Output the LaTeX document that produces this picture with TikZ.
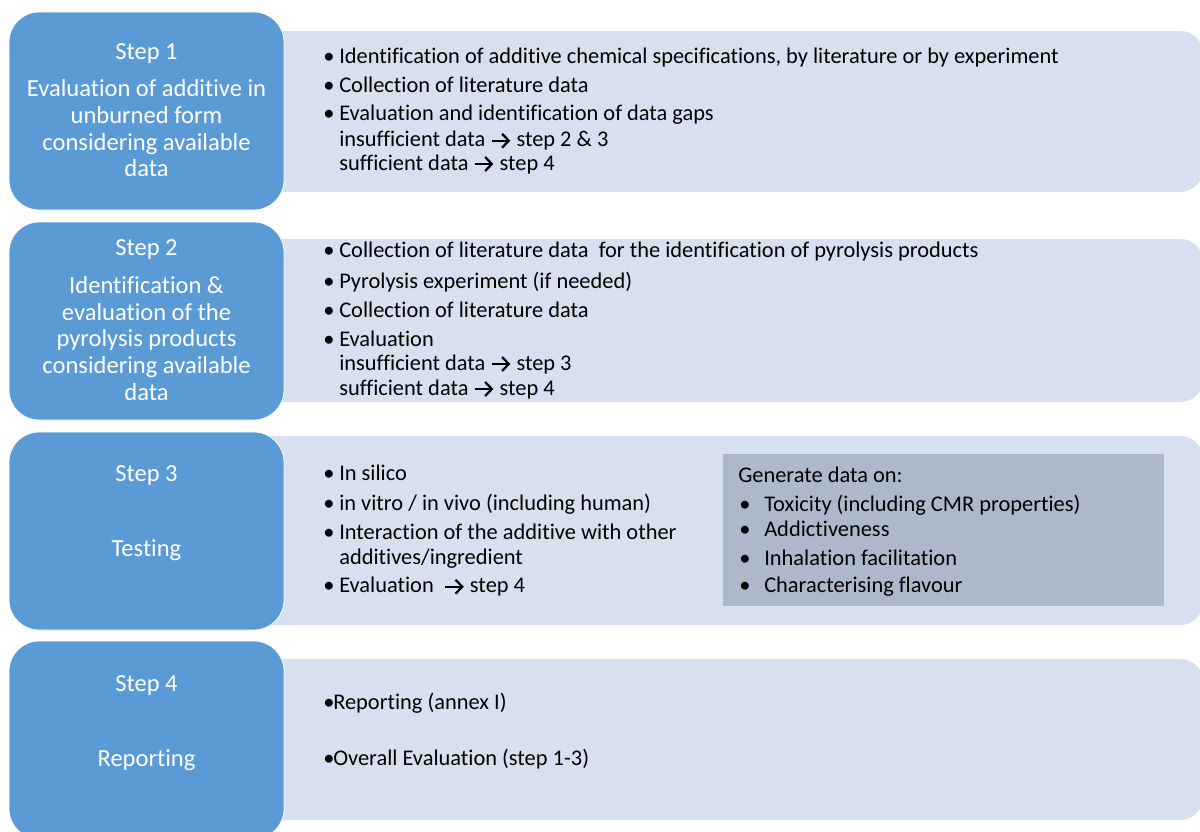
\documentclass[tikz,border=0pt]{standalone}
\usepackage{fontspec}
\setmainfont{Carlito}[Ligatures=NoCommon]
\usetikzlibrary{fit,arrows.meta}
\definecolor{stepblue}{HTML}{5B9BD5}
\definecolor{panelc}{HTML}{D6E0EE}
\definecolor{darkp}{HTML}{ADB9CA}
\newcommand{\arr}{\tikz[baseline={(0pt,-4.5pt)}]\draw[line width=1.7pt,-{Straight Barb[length=5pt,width=10.5pt]}] (0pt,0pt) -- (14pt,0pt);}
\newcommand{\bl}[1]{\makebox[#1][l]{•}}
\tikzset{
  stepbox/.style={fill=stepblue, draw=white, line width=0.6pt, rounded corners=22.5pt, inner sep=0pt},
  panelbox/.style={fill=panelc, rounded corners=17pt, inner sep=0pt},
  darkbox/.style={fill=darkp, inner sep=0pt},
  steptxt/.style={anchor=base, inner sep=0pt, text=white, font=\fontsize{18.4pt}{20pt}\selectfont},
  ln/.style={anchor=base west, inner sep=0pt, text=black, font=\fontsize{16.8pt}{18pt}\selectfont}
}
\begin{document}
\begin{tikzpicture}[x=0.75pt,y=-0.75pt]
\useasboundingbox (0,0) rectangle (1200,832);
\clip (0,0) rectangle (1200,832);
% panels
\node[panelbox, fit={(240,31)(1203,192)}] (p1) {};
\node[panelbox, fit={(240,239)(1203,402)}] (p2) {};
\node[panelbox, fit={(240,436)(1203,625)}] (p3) {};
\node[panelbox, fit={(240,659)(1203,820)}] (p4) {};
\node[darkbox, fit={(723,454)(1164,606)}] (d3) {};
% step boxes
\node[stepbox, fit={(9,12)(284,210)}] (s1) {};
\node[stepbox, fit={(9,222)(284,420)}] (s2) {};
\node[stepbox, fit={(9,432)(284,630)}] (s3) {};
\node[stepbox, fit={(9,641)(284,839)}] (s4) {};
% step texts
\node[steptxt] (s1a) at (146.5,59) {Step 1};
\node[steptxt] (s1b) at (146.5,96.7) {Evaluation of additive in};
\node[steptxt] (s1c) at (146.5,123.3) {unburned form};
\node[steptxt] (s1d) at (146.5,150) {considering available};
\node[steptxt] (s1e) at (146.5,176.7) {data};
\node[steptxt] (s2a) at (146.5,255) {Step 2};
\node[steptxt] (s2b) at (146.5,293.3) {Identification \&};
\node[steptxt] (s2c) at (146.5,320) {evaluation of the};
\node[steptxt] (s2d) at (146.5,346.7) {pyrolysis products};
\node[steptxt] (s2e) at (146.5,373.3) {considering available};
\node[steptxt] (s2f) at (146.5,400) {data};
\node[steptxt] (s3a) at (146.5,481.7) {Step 3};
\node[steptxt] (s3b) at (146.5,556.7) {Testing};
\node[steptxt] (s4a) at (146.5,691.7) {Step 4};
\node[steptxt] (s4b) at (146.5,766.7) {Reporting};
% row 1
\node[ln] (r1a) at (323,63.3) {\bl{12pt}Identification of additive chemical specifications, by literature or by experiment};
\node[ln] (r1b) at (323,92.7) {\bl{12pt}Collection of literature data};
\node[ln] (r1c) at (323,120.7) {\bl{12pt}Evaluation and identification of data gaps};
\node[ln] (r1d) at (339,146.7) {insufficient data \arr{} step 2 \& 3};
\node[ln] (r1e) at (339,170) {sufficient data \arr{} step 4};
% row 2
\node[ln] (r2a) at (323,257.3) {\bl{12pt}Collection of literature data\ \ for the identification of pyrolysis products};
\node[ln] (r2b) at (323,288) {\bl{12pt}Pyrolysis experiment (if needed)};
\node[ln] (r2c) at (323,317) {\bl{12pt}Collection of literature data};
\node[ln] (r2d) at (323,346) {\bl{12pt}Evaluation};
\node[ln] (r2e) at (339,370) {insufficient data \arr{} step 3};
\node[ln] (r2f) at (339,395) {sufficient data \arr{} step 4};
% row 3
\node[ln] (r3a) at (323,480.7) {\bl{12pt}In silico};
\node[ln] (r3b) at (323,510) {\bl{12pt}in vitro / in vivo (including human)};
\node[ln] (r3c) at (323,539.3) {\bl{12pt}Interaction of the additive with other};
\node[ln] (r3d) at (339,564.3) {additives/ingredient};
\node[ln] (r3e) at (323,592.7) {\bl{12pt}Evaluation\ \ \arr{} step 4};
% dark box
\node[ln] (d3a) at (738,482.7) {Generate data on:};
\node[ln] (d3b) at (739,511) {\bl{18.75pt}Toxicity (including CMR properties)};
\node[ln] (d3c) at (739,536.7) {\bl{18.75pt}Addictiveness};
\node[ln] (d3d) at (739,565.7) {\bl{18.75pt}Inhalation facilitation};
\node[ln] (d3e) at (739,592.7) {\bl{18.75pt}Characterising flavour};
% row 4
\node[ln] (r4a) at (323,709.3) {\bl{7.5pt}Reporting (annex I)};
\node[ln] (r4b) at (323,765) {\bl{7.5pt}Overall Evaluation (step 1-3)};
\end{tikzpicture}
\end{document}
